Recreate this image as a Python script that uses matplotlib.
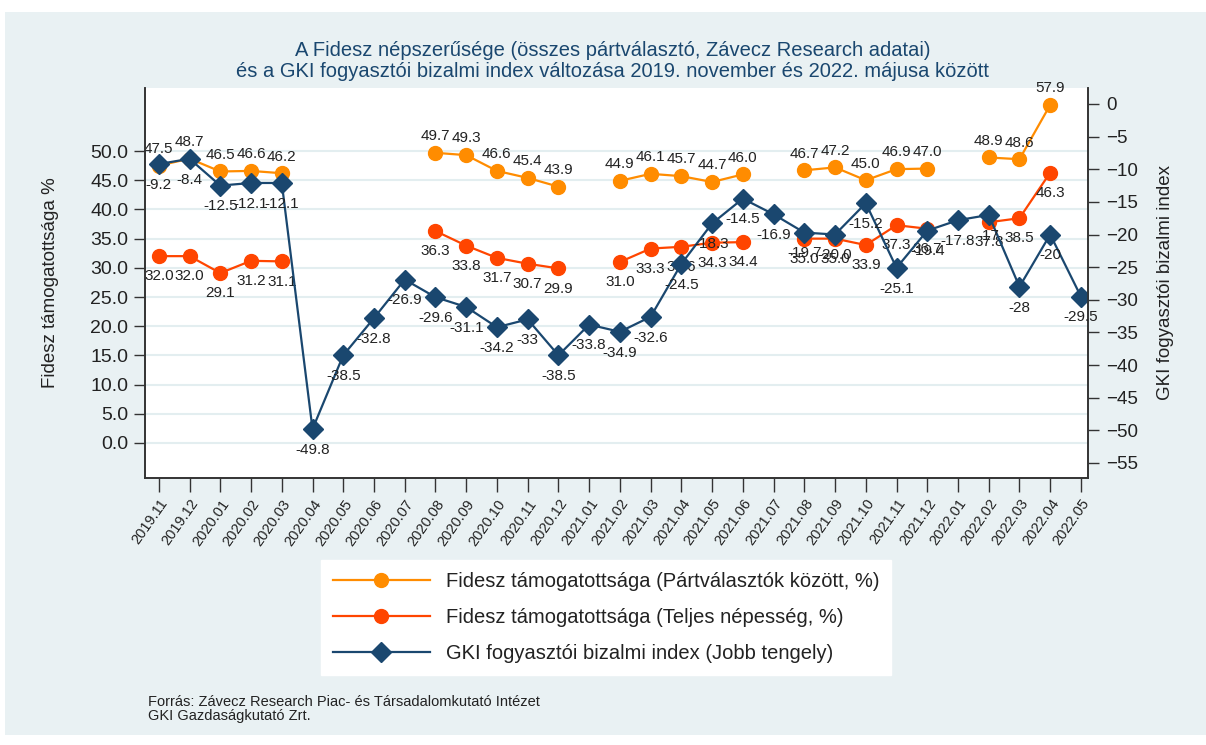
import numpy as np
import matplotlib
matplotlib.use("Agg")
import matplotlib.pyplot as plt
from matplotlib.patches import Rectangle

plt.rcParams['font.family'] = ['Liberation Sans', 'DejaVu Sans']

nan = np.nan

# honapok
months = ['2019.11', '2019.12', '2020.01', '2020.02', '2020.03', '2020.04',
          '2020.05', '2020.06', '2020.07', '2020.08', '2020.09', '2020.10',
          '2020.11', '2020.12', '2021.01', '2021.02', '2021.03', '2021.04',
          '2021.05', '2021.06', '2021.07', '2021.08', '2021.09', '2021.10',
          '2021.11', '2021.12', '2022.01', '2022.02', '2022.03', '2022.04',
          '2022.05']

# Fidesz tamogatottsaga a partvalasztok kozott (%)
partvalasztok = [47.5, 48.7, 46.5, 46.6, 46.2, nan, nan, nan, nan,
                 49.7, 49.3, 46.6, 45.4, 43.9, nan,
                 44.9, 46.1, 45.7, 44.7, 46.0, nan,
                 46.7, 47.2, 45.0, 46.9, 47.0, nan,
                 48.9, 48.6, 57.9, nan]

# Fidesz tamogatottsaga a teljes nepessegben (%)
teljes = [32.0, 32.0, 29.1, 31.2, 31.1, nan, nan, nan, nan,
          36.3, 33.8, 31.7, 30.7, 29.9, nan,
          31.0, 33.3, 33.6, 34.3, 34.4, nan,
          35.0, 35.0, 33.9, 37.3, 36.7, nan,
          37.8, 38.5, 46.3, nan]

# GKI fogyasztoi bizalmi index (cimkek ugy, ahogy az abran)
gki_txt = ['-9.2', '-8.4', '-12.5', '-12.1', '-12.1', '-49.8', '-38.5',
           '-32.8', '-26.9', '-29.6', '-31.1', '-34.2', '-33', '-38.5',
           '-33.8', '-34.9', '-32.6', '-24.5', '-18.3', '-14.5', '-16.9',
           '-19.7', '-20.0', '-15.2', '-25.1', '-19.4', '-17.8', '-17',
           '-28', '-20', '-29.5']
gki = [float(s) for s in gki_txt]

c_orange = '#ff8c00'
c_red = '#ff4500'
c_navy = '#1a476f'
bg = '#e9f1f3'
grid_c = '#e3eef0'
txt_c = '#222222'

fig = plt.figure(figsize=(12.06, 7.45), dpi=100)
fig.patch.set_facecolor('white')
fig.patches.append(Rectangle((5 / 1206, 1 - 735 / 745), 1 - 5 / 1206, (735 - 12) / 745,
                             transform=fig.transFigure, facecolor=bg,
                             edgecolor='none', zorder=-10))

ax = fig.add_axes([145 / 1206, 1 - 478 / 745, (1088 - 145) / 1206, (478 - 88) / 745])
ax2 = ax.twinx()
ax.set_zorder(1)
ax2.set_zorder(2)
ax.patch.set_facecolor('white')
ax2.patch.set_visible(False)

x = np.arange(len(months))

l1, = ax.plot(x, partvalasztok, color=c_orange, lw=1.6, marker='o', ms=10,
              label='Fidesz támogatottsága (Pártválasztók között, %)')
l2, = ax.plot(x, teljes, color=c_red, lw=1.6, marker='o', ms=10,
              label='Fidesz támogatottsága (Teljes népesség, %)')
l3, = ax2.plot(x, gki, color=c_navy, lw=1.6, marker='D', ms=10,
               label='GKI fogyasztói bizalmi index (Jobb tengely)')

# adatcimkek
for xi, v in zip(x, partvalasztok):
    if not np.isnan(v):
        ax.annotate(f'{v:.1f}', (xi, v), xytext=(0, 12), textcoords='offset points',
                    ha='center', va='center', fontsize=11, color=txt_c, zorder=5)
for xi, v in zip(x, teljes):
    if not np.isnan(v):
        ax.annotate(f'{v:.1f}', (xi, v), xytext=(0, -14.5), textcoords='offset points',
                    ha='center', va='center', fontsize=11, color=txt_c, zorder=5)
for xi, v, t in zip(x, gki, gki_txt):
    ax2.annotate(t, (xi, v), xytext=(0, -15), textcoords='offset points',
                 ha='center', va='center', fontsize=11, color=txt_c, zorder=5)

ax.set_xlim(-0.45, 30.23)
ax.set_ylim(-6.0, 60.8)
ax2.set_ylim(-57.3, 2.45)

ax.set_yticks(np.arange(0, 51, 5))
ax.set_yticklabels([f'{t:.1f}' for t in np.arange(0, 51, 5)])
ax2.set_yticks(np.arange(-55, 1, 5))
ax.yaxis.grid(True, color=grid_c, lw=1.5)
ax.set_axisbelow(True)

ax.set_xticks(x)
ax.set_xticklabels(months, rotation=55, ha='right', rotation_mode='anchor', fontsize=10.5)

for a in (ax, ax2):
    a.spines['top'].set_visible(False)
    for s in ('left', 'right', 'bottom'):
        a.spines[s].set_color('#333333')
        a.spines[s].set_linewidth(1.2)
ax.tick_params(axis='y', labelsize=14, length=8, width=1, color='#333333',
               labelcolor=txt_c, pad=4)
ax.tick_params(axis='x', length=10, width=1, color='#333333', labelcolor=txt_c)
ax2.tick_params(axis='y', labelsize=13.5, length=8, width=1, color='#333333',
                labelcolor=txt_c, pad=5)

ax.set_ylabel('Fidesz támogatottsága %', fontsize=13.5, color=txt_c)
ax2.set_ylabel('GKI fogyasztói bizalmi index', fontsize=13.5, color=txt_c)
ax.yaxis.set_label_coords(-0.091, 0.5)
ax2.yaxis.set_label_coords(1.073, 0.5)

fig.text(613 / 1206, 1 - 61 / 745,
         'A Fidesz népszerűsége (összes pártválasztó, Závecz Research adatai)\n'
         'és a GKI fogyasztói bizalmi index változása 2019. november és 2022. májusa között',
         ha='center', va='center', fontsize=14.5, color=c_navy, linespacing=1.15)

leg = fig.legend(handles=[l1, l2, l3], loc='upper left',
                 bbox_to_anchor=(321 / 1206, 1 - 560 / 745), fontsize=14.5,
                 handlelength=4.8, handletextpad=0.8, labelspacing=0.85,
                 frameon=True, fancybox=False, framealpha=1, borderpad=0.6,
                 borderaxespad=0)
leg.get_frame().set_facecolor('white')
leg.get_frame().set_edgecolor('white')
for t in leg.get_texts():
    t.set_color(txt_c)

fig.text(148 / 1206, 1 - 702 / 745, 'Forrás: Závecz Research Piac- és Társadalomkutató Intézet',
         fontsize=10.5, color=txt_c, va='center', ha='left')
fig.text(148 / 1206, 1 - 716 / 745, 'GKI Gazdaságkutató Zrt.',
         fontsize=10.5, color=txt_c, va='center', ha='left')

fig.savefig('out.png', dpi=100, facecolor=fig.get_facecolor())
